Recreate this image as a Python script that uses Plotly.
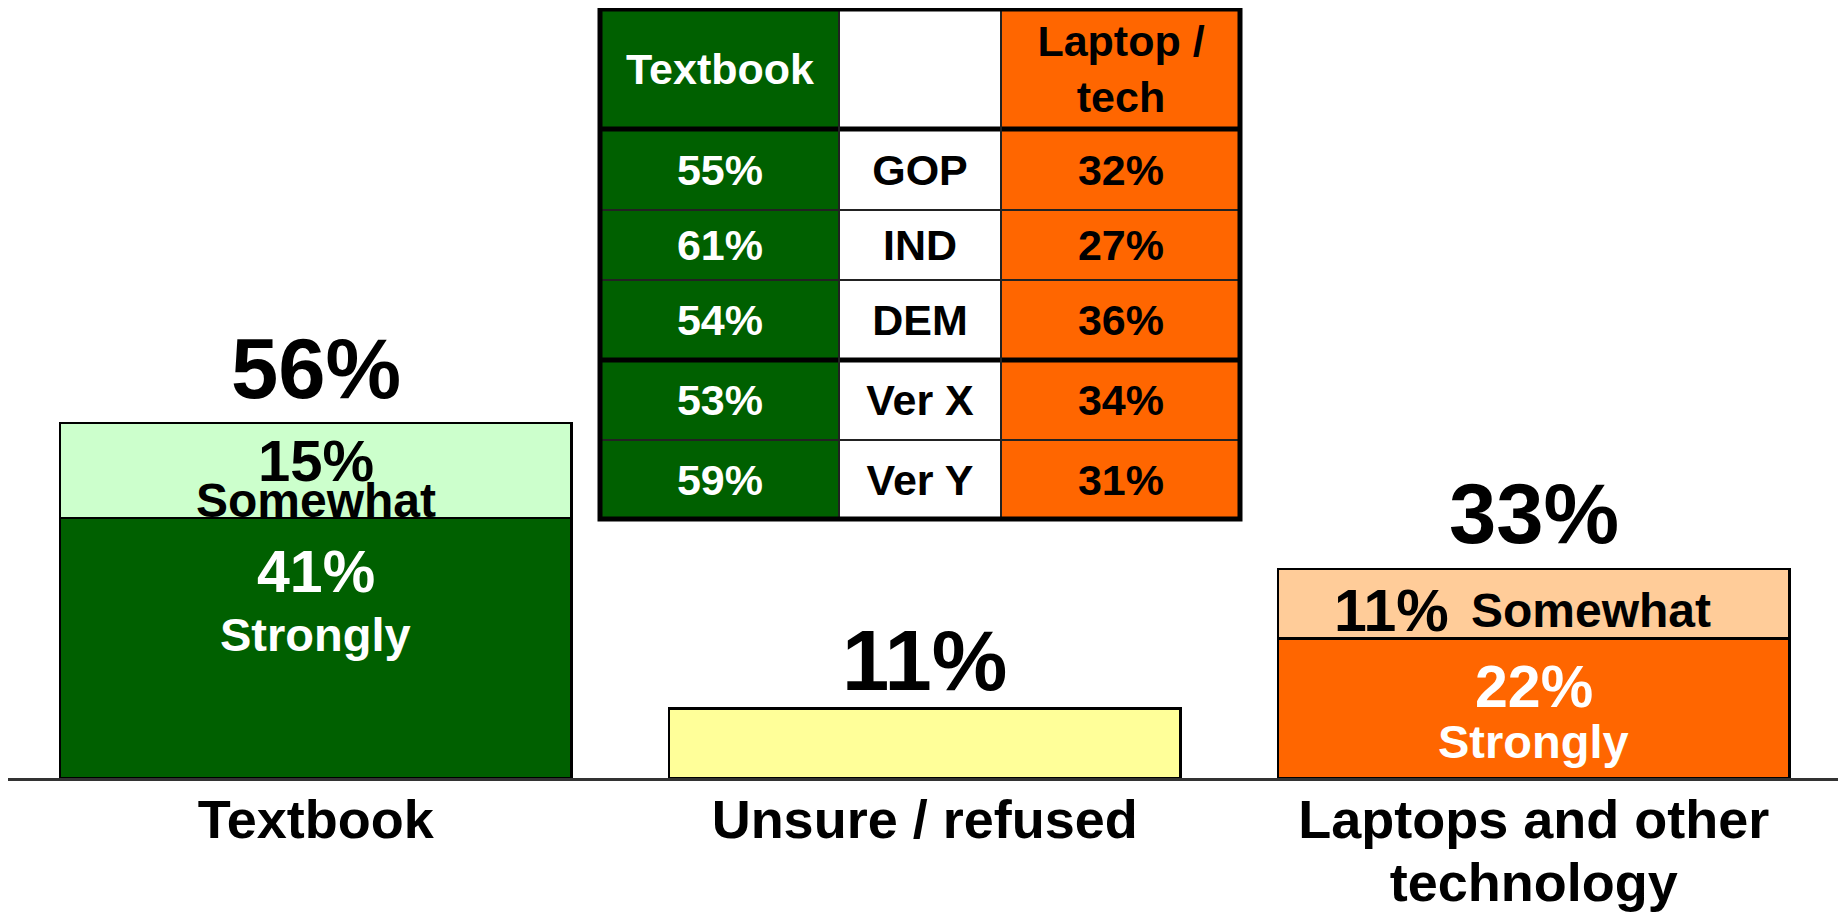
import plotly.graph_objects as go

# ---------------- data ----------------
categories = ["Textbook", "Unsure / refused", "Laptops and other<br>technology"]
strongly = [41, None, 22]
somewhat = [15, None, 11]
unsure = [None, 11, None]
totals = [56, 11, 33]

table_header = ["Textbook", "", "Laptop /<br>tech"]
table_groups = ["GOP", "IND", "DEM", "Ver X", "Ver Y"]
table_textbook = [55, 61, 54, 53, 59]
table_laptop = [32, 27, 36, 34, 31]

# ---------------- styles ----------------
FONT = "Liberation Sans, Arial, Helvetica, sans-serif"
DARK_GREEN = "#006000"
LIGHT_GREEN = "#CCFFCC"
YELLOW = "#FFFF99"
ORANGE = "#FF6600"
PEACH = "#FFCC99"
W, H = 1838, 906          # page body adds an 8px margin at left/top
PLOT_H = 770              # plot area height (px)
PX_PER_UNIT = 609         # category spacing (px)
FIRST_CENTER = 307.7      # px of first category centre inside the plot

fig = go.Figure()
bar_line = dict(color="black", width=2.5)
fig.add_bar(x=categories, y=strongly, marker=dict(color=[DARK_GREEN, YELLOW, ORANGE], line=bar_line),
            width=0.84, hoverinfo="skip")
fig.add_bar(x=categories, y=unsure, marker=dict(color=YELLOW, line=bar_line), width=0.84, hoverinfo="skip")
fig.add_bar(x=categories, y=somewhat, marker=dict(color=[LIGHT_GREEN, YELLOW, PEACH], line=bar_line),
            width=0.84, hoverinfo="skip")

ann = []
total_shift = [54, 48, 55]
for c, t, s in zip(categories, totals, total_shift):
    ann.append(dict(x=c, y=t, text=f"{t}%", yshift=s, font=dict(size=85, color="black")))

c0 = categories[0]
ann += [
    dict(x=c0, y=totals[0], text=f"{somewhat[0]}%", yshift=-38, font=dict(size=58, color="black")),
    dict(x=c0, y=totals[0], text="Somewhat", yshift=-78, font=dict(size=48, color="black")),
    dict(x=c0, y=strongly[0], text=f"{strongly[0]}%", yshift=-54, font=dict(size=59, color="white")),
    dict(x=c0, y=strongly[0], text="Strongly", yshift=-116, font=dict(size=47, color="white")),
]
c2 = categories[2]
ann += [
    dict(x=c2, y=totals[2], text=f"{somewhat[2]}%", yshift=-42, xshift=-142, font=dict(size=59, color="black")),
    dict(x=c2, y=totals[2], text="Somewhat", yshift=-42, xshift=57, font=dict(size=48, color="black")),
    dict(x=c2, y=strongly[2], text=f"{strongly[2]}%", yshift=-48, font=dict(size=59, color="white")),
    dict(x=c2, y=strongly[2], text="Strongly", yshift=-103, font=dict(size=47, color="white")),
]
for a in ann:
    a.update(showarrow=False, yanchor="middle", xref="x", yref="y")
    a["font"].update(family=FONT, weight="bold")

# tick labels: glyphs at 54px, line spacing based on a 48px base font
tick_text = ["<br>".join(f"<span style='font-size:54px'>{part}</span>" for part in c.split("<br>"))
             for c in categories]

# ---------------- table (heatmap grid) ----------------
col_edges = [0, 239, 401, 640]
row_edges = [0, 120, 201, 271, 351, 431, 510]
col_fill = [DARK_GREEN, "white", ORANGE]
col_text = ["white", "black", "black"]

table_rows = [table_header] + [[f"{a}%", g, f"{b}%"] for a, g, b in zip(table_textbook, table_groups, table_laptop)]
cell_text = [[f"<b><span style='color:{col_text[j]}'>{v}</span></b>" for j, v in enumerate(r)] for r in table_rows]
cell_z = [[j for j in range(len(col_fill))] for _ in table_rows]

fig.add_trace(go.Heatmap(
    x=col_edges, y=row_edges, z=cell_z, text=cell_text, texttemplate="%{text}",
    textfont=dict(family=FONT, size=43),
    colorscale=[[0, col_fill[0]], [0.5, col_fill[1]], [1, col_fill[2]]],
    zmin=0, zmax=2, showscale=False, hoverinfo="skip", xaxis="x2", yaxis="y2",
))

shapes = []
thick_rows = {row_edges[1], row_edges[4]}
for yv in row_edges[1:-1]:
    thick = yv in thick_rows
    shapes.append(dict(type="line", xref="x2", yref="y2", x0=col_edges[0], x1=col_edges[-1], y0=yv, y1=yv,
                       line=dict(color="black" if thick else "#222222", width=5 if thick else 2)))
for xv in col_edges[1:-1]:
    shapes.append(dict(type="line", xref="x2", yref="y2", x0=xv, x1=xv, y0=row_edges[0], y1=row_edges[-1],
                       line=dict(color="#222222", width=2)))
shapes.append(dict(type="rect", xref="x2", yref="y2", x0=col_edges[0], x1=col_edges[-1],
                   y0=row_edges[0], y1=row_edges[-1], line=dict(color="black", width=5)))

tab_left, tab_top = 592, 1        # px in figure
xr = [-4, col_edges[-1] + 4]
yr = [row_edges[-1] + 3, -1]
x_dom = [(tab_left + xr[0]) / W, (tab_left + xr[1]) / W]
y_dom = [1 - (tab_top + yr[0]) / PLOT_H, 1 - (tab_top + yr[1]) / PLOT_H]

x_range = [-FIRST_CENTER / PX_PER_UNIT, (W - FIRST_CENTER) / PX_PER_UNIT]

fig.update_layout(
    width=W, height=H, barmode="stack", showlegend=False,
    paper_bgcolor="white", plot_bgcolor="white",
    margin=dict(l=0, r=0, t=0, b=H - PLOT_H, pad=0, autoexpand=False),
    font=dict(family=FONT, color="black", weight="bold"),
    annotations=ann, shapes=shapes,
    xaxis=dict(range=x_range, showline=True, linecolor="#333333", linewidth=2.5,
               ticks="", showgrid=False, zeroline=False, ticklabelstandoff=0, automargin=False,
               tickmode="array", tickvals=categories, ticktext=tick_text,
               tickfont=dict(family=FONT, size=48, color="black", weight="bold")),
    yaxis=dict(range=[0, PLOT_H / 6.34], visible=False, showgrid=False, zeroline=False, automargin=False),
    xaxis2=dict(domain=x_dom, range=xr, visible=False, anchor="y2", fixedrange=True, automargin=False),
    yaxis2=dict(domain=y_dom, range=yr, visible=False, anchor="x2", fixedrange=True, automargin=False),
)

fig.write_html("out.html")
